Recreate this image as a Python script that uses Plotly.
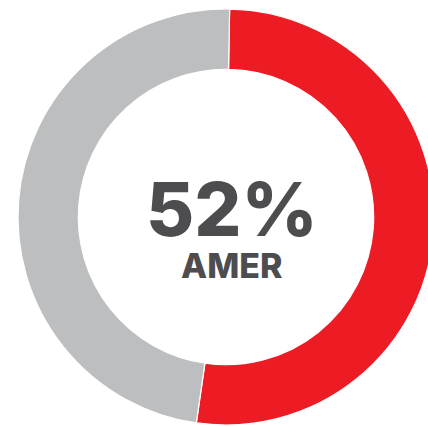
import plotly.graph_objects as go

labels = ["AMER", "Other regions"]
values = [52, 48]
colors = ["#ED1C24", "#BCBEC0"]
center_value = "52%"
center_label = "AMER"

W, H = 440, 426            # figure slightly wider than the window; right of the ring is cut off
CX, CY, R = 226, 217, 208  # ring centre and outer radius in pixels

fig = go.Figure(go.Pie(
    labels=labels,
    values=values,
    hole=0.71,
    sort=False,
    direction="clockwise",
    rotation=1,
    marker=dict(colors=colors, line=dict(color="white", width=1.2)),
    textinfo="none",
    hoverinfo="label+percent",
    domain=dict(x=[(CX - R) / W, (CX + R) / W], y=[(H - CY - R) / H, (H - CY + R) / H]),
    showlegend=False,
))

center_text = (
    f"<span style='font-size:74px;font-weight:800'>{center_value}</span><br>"
    f"<span style='font-size:34px;font-weight:800'>{center_label}</span>"
)
fig.add_annotation(text=center_text, x=232, y=H - 224.5, xref="x", yref="y",
                   showarrow=False, align="center",
                   font=dict(family="Inter", size=32.5, color="#4D4D4F"))

fig.update_layout(
    width=W, height=H,
    margin=dict(l=0, r=0, t=0, b=0),
    paper_bgcolor="white", plot_bgcolor="rgba(0,0,0,0)",
    xaxis=dict(range=[0, W], visible=False, fixedrange=True),
    yaxis=dict(range=[0, H], visible=False, fixedrange=True),
)

fig.write_html(
    "out.html",
    config={"displayModeBar": False},
    post_script="document.body.style.margin='0';document.body.style.overflow='hidden';document.documentElement.style.overflow='hidden';",
)
